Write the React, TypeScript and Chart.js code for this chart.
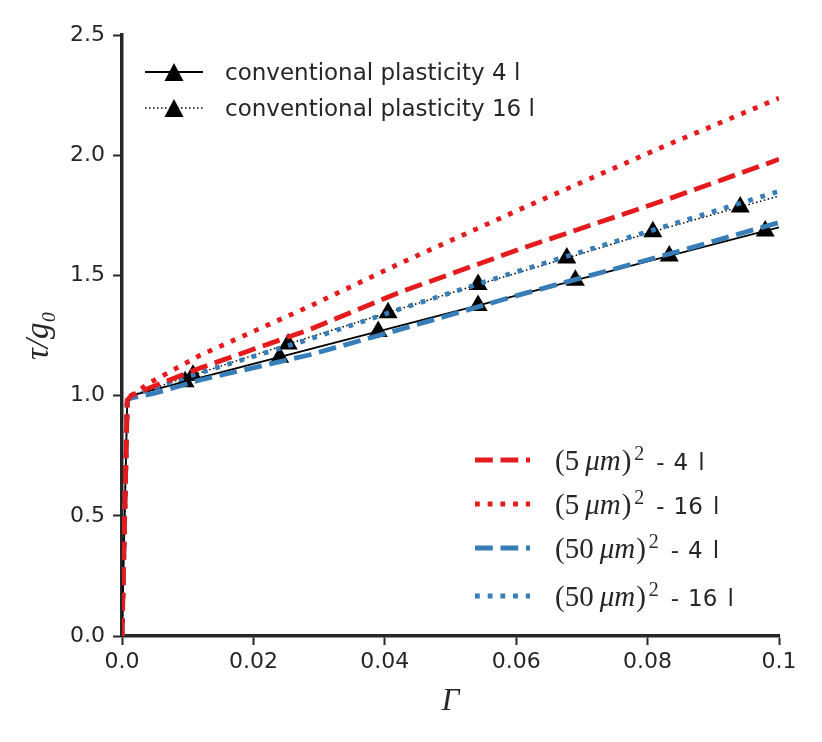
import React, { useEffect, useRef } from 'react';
import { Chart, registerables } from 'chart.js';

Chart.register(...registerables);

// ---- data ----
const xTickValues = [0, 0.02, 0.04, 0.06, 0.08, 0.1];
const xTickLabels = ['0.0', '0.02', '0.04', '0.06', '0.08', '0.1'];
const yTickValues = [0, 0.5, 1.0, 1.5, 2.0, 2.5];
const yTickLabels = ['0.0', '0.5', '1.0', '1.5', '2.0', '2.5'];

const conv4X = [0, 0.0008, 0.0014, 0.05, 0.1];
const conv4Y = [0, 0.98, 1.0, 1.345, 1.7];
const conv4MarkX = [0.0096, 0.024, 0.039, 0.0542, 0.069, 0.0833, 0.0979];
const conv4MarkY = [1.058, 1.16, 1.267, 1.375, 1.48, 1.581, 1.685];

const conv16X = [0, 0.0008, 0.0014, 0.0108, 0.0253, 0.0405, 0.0542, 0.0677, 0.0808, 0.0941, 0.1];
const conv16Y = [0, 0.98, 1.0, 1.085, 1.215, 1.345, 1.462, 1.572, 1.682, 1.785, 1.83];
const conv16MarkX = [0.0108, 0.0253, 0.0405, 0.0542, 0.0677, 0.0808, 0.0941];
const conv16MarkY = [1.085, 1.215, 1.345, 1.462, 1.572, 1.682, 1.785];

const red4X = [0, 0.0008, 0.0014, 0.004, 0.0119, 0.0286, 0.0423, 0.0606, 0.0834, 0.1];
const red4Y = [0, 0.98, 1.0, 1.03, 1.115, 1.275, 1.43, 1.61, 1.82, 1.983];
const red16X = [0, 0.0008, 0.0014, 0.004, 0.0119, 0.0286, 0.0423, 0.0606, 0.0819, 0.1];
const red16Y = [0, 0.98, 1.0, 1.05, 1.168, 1.372, 1.55, 1.775, 2.03, 2.2375];
const blue4X = [0, 0.0008, 0.0014, 0.005, 0.0119, 0.0286, 0.0423, 0.0606, 0.0834, 0.1];
const blue4Y = [0, 0.98, 0.99, 1.01, 1.065, 1.17, 1.275, 1.42, 1.59, 1.72];
const blue16X = [0, 0.0008, 0.0014, 0.0119, 0.0286, 0.0423, 0.0606, 0.0834, 0.1];
const blue16Y = [0, 0.98, 1.0, 1.095, 1.235, 1.36, 1.52, 1.71, 1.85];

const convLabels = ['conventional plasticity 4 l', 'conventional plasticity 16 l'];
const gradSizes = ['5', '5', '50', '50'];
const gradLines = ['4', '16', '4', '16'];

const RED = '#e41a1c';
const BLUE = '#377eb8';
const INK = '#262626';
const LW = 4.8;
const DASH = [17.8, 7.7];
const DOT = [4.8, 7.9];
const BLACK_DOT = [1.5, 2.5];

const pts = (xs: number[], ys: number[]) => xs.map((x, i) => ({ x, y: ys[i] }));

const gradStyles = [
  { color: RED, dash: DASH },
  { color: RED, dash: DOT },
  { color: BLUE, dash: DASH },
  { color: BLUE, dash: DOT },
];
const convStyles = [
  { width: 1.8, dash: [] as number[] },
  { width: 1.5, dash: BLACK_DOT },
];

function drawTriangle(ctx: CanvasRenderingContext2D, x: number, y: number, w: number) {
  const h = w * 0.95;
  ctx.beginPath();
  ctx.moveTo(x, y - h / 2);
  ctx.lineTo(x + w / 2, y + h / 2);
  ctx.lineTo(x - w / 2, y + h / 2);
  ctx.closePath();
  ctx.fill();
}

const SERIF = '"Liberation Serif", "DejaVu Serif", serif';

const legendPlugin = {
  id: 'twoLegends',
  afterDraw(chart: any) {
    const ctx: CanvasRenderingContext2D = chart.ctx;
    ctx.save();
    // legend 1: conventional plasticity
    convLabels.forEach((label, i) => {
      const y = 72 + i * 36;
      ctx.strokeStyle = '#000';
      ctx.lineWidth = convStyles[i].width;
      ctx.setLineDash(convStyles[i].dash);
      ctx.lineCap = 'butt';
      ctx.beginPath();
      ctx.moveTo(145, y);
      ctx.lineTo(203, y);
      ctx.stroke();
      ctx.setLineDash([]);
      ctx.fillStyle = '#000';
      drawTriangle(ctx, 174, y, 19);
      ctx.fillStyle = INK;
      ctx.font = '23px "DejaVu Sans"';
      ctx.textBaseline = 'alphabetic';
      ctx.textAlign = 'left';
      ctx.fillText(label, 225, y + 8);
    });
    // legend 2: gradient plasticity
    const rowsY = [460, 504, 548, 596];
    gradSizes.forEach((size, i) => {
      const y = rowsY[i];
      ctx.strokeStyle = gradStyles[i].color;
      ctx.lineWidth = LW;
      ctx.setLineDash(gradStyles[i].dash);
      ctx.lineCap = 'butt';
      ctx.beginPath();
      ctx.moveTo(475, y);
      ctx.lineTo(530, y);
      ctx.stroke();
      ctx.setLineDash([]);
      ctx.fillStyle = INK;
      ctx.textBaseline = 'alphabetic';
      ctx.textAlign = 'left';
      const base = y + 10;
      let cx = 555;
      const seg = (t: string, font: string, dy = 0) => {
        ctx.font = font;
        ctx.fillText(t, cx, base + dy);
        cx += ctx.measureText(t).width;
      };
      seg('(' + size, `29px ${SERIF}`);
      cx += 6;
      seg('μm', `italic 29px ${SERIF}`);
      cx += 1;
      seg(')', `29px ${SERIF}`);
      cx += 3;
      seg('2', `20px ${SERIF}`, -10);
      cx += 12;
      seg('-', '23px "DejaVu Sans"');
      cx += 9;
      seg(gradLines[i], '23px "DejaVu Sans"');
      cx += 10;
      seg('l', '23px "DejaVu Sans"');
    });
    ctx.restore();
  },
};

export default function App() {
  const ref = useRef<HTMLCanvasElement>(null);
  useEffect(() => {
    if (!ref.current) return;
    const lineDs = (label: string, xs: number[], ys: number[], color: string, width: number, dash: number[], order: number) => ({
      type: 'line' as const,
      label,
      data: pts(xs, ys),
      borderColor: color,
      backgroundColor: color,
      borderWidth: width,
      borderDash: dash,
      borderCapStyle: 'butt' as const,
      pointRadius: 0,
      tension: 0,
      fill: false,
      order,
    });
    const markDs = (label: string, xs: number[], ys: number[], order: number) => ({
      type: 'line' as const,
      label,
      data: pts(xs, ys),
      showLine: false,
      pointStyle: 'triangle' as const,
      pointRadius: 11,
      pointBackgroundColor: '#000',
      pointBorderColor: '#000',
      pointBorderWidth: 0,
      order,
    });
    const chart = new Chart(ref.current, {
      type: 'line',
      data: {
        datasets: [
          lineDs('(5 μm)² - 4 l', red4X, red4Y, RED, LW, DASH, 1),
          lineDs('(5 μm)² - 16 l', red16X, red16Y, RED, LW, DOT, 2),
          lineDs('(50 μm)² - 16 l', blue16X, blue16Y, BLUE, LW, DOT, 3),
          lineDs('(50 μm)² - 4 l', blue4X, blue4Y, BLUE, LW, DASH, 4),
          markDs('conv 16 markers', conv16MarkX, conv16MarkY, 5),
          markDs('conv 4 markers', conv4MarkX, conv4MarkY, 6),
          lineDs(convLabels[1], conv16X, conv16Y, '#000', 1.5, BLACK_DOT, 7),
          lineDs(convLabels[0], conv4X, conv4Y, '#000', 1.8, [], 8),
        ],
      },
      options: {
        responsive: false,
        animation: false,
        devicePixelRatio: 1,
        layout: { padding: { top: 35, right: 43, left: 0, bottom: 0 } },
        plugins: { legend: { display: false }, tooltip: { enabled: false } },
        scales: {
          x: {
            type: 'linear',
            min: 0,
            max: 0.1,
            afterBuildTicks: (s: any) => {
              s.ticks = xTickValues.map((v) => ({ value: v }));
            },
            afterFit: (s: any) => {
              s.height = 106;
            },
            ticks: {
              callback: (_v: any, i: number) => xTickLabels[i],
              color: INK,
              font: { family: 'DejaVu Sans', size: 22 },
              padding: 4,
              maxRotation: 0,
            },
            grid: { drawOnChartArea: false, drawTicks: true, tickLength: 9, tickWidth: 2, tickColor: INK, color: INK },
            border: { display: true, color: INK, width: 3.5 },
            title: {
              display: true,
              text: 'Γ',
              color: INK,
              font: { family: SERIF, size: 31, style: 'italic' },
              padding: { top: 0, bottom: 22 },
            },
          },
          y: {
            type: 'linear',
            min: 0,
            max: 2.5,
            afterBuildTicks: (s: any) => {
              s.ticks = yTickValues.map((v) => ({ value: v }));
            },
            afterFit: (s: any) => {
              s.width = 122;
            },
            ticks: {
              callback: (_v: any, i: number) => yTickLabels[i],
              color: INK,
              font: { family: 'DejaVu Sans', size: 22 },
              padding: 8,
            },
            grid: { drawOnChartArea: false, drawTicks: true, tickLength: 9, tickWidth: 2, tickColor: INK, color: INK },
            border: { display: true, color: INK, width: 3.5 },
            title: {
              display: true,
              text: 'τ/g₀',
              color: INK,
              font: { family: SERIF, size: 33, style: 'italic' },
              padding: { top: 20, bottom: 0 },
            },
          },
        },
      },
      plugins: [legendPlugin],
    } as any);
    return () => chart.destroy();
  }, []);
  return (
    <div style={{ position: 'fixed', left: 0, top: 0, width: 822, height: 742, background: '#fff' }}>
      <canvas ref={ref} width={822} height={742} style={{ display: 'block' }} />
    </div>
  );
}
